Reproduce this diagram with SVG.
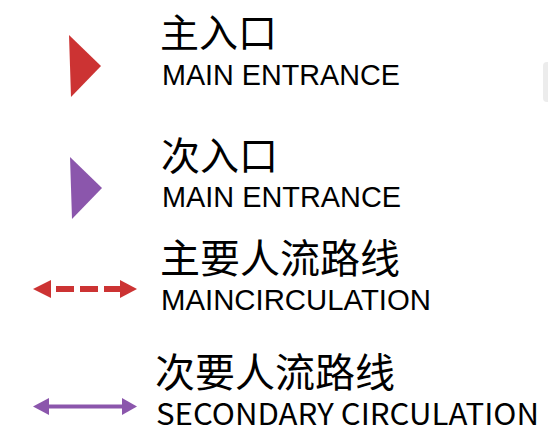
<svg xmlns="http://www.w3.org/2000/svg" width="548" height="436" viewBox="0 0 548 436">
<style>
.cn{font-family:"Noto Sans CJK SC","Noto Sans",sans-serif;font-size:39px;fill:#000}
.en{font-family:"Liberation Sans",Arial,sans-serif;font-size:29px;fill:#000}
.en2{font-family:"Noto Sans CJK SC","Noto Sans",sans-serif;font-size:30px;fill:#000}
</style>
<rect width="548" height="436" fill="#fff"/>
<rect x="543" y="62" width="12" height="40" rx="4" fill="#ececec"/>
<g id="main-entrance">
<polygon points="69,35 101,66 71,97" fill="#CC3333"/>
<text class="cn" x="160" y="47">主入口</text>
<text class="en" x="162" y="85" textLength="238" lengthAdjust="spacingAndGlyphs">MAIN ENTRANCE</text>
</g>
<g id="secondary-entrance">
<polygon points="70,157 102,188 72,219" fill="#8B56AC"/>
<text class="cn" x="161" y="170">次入口</text>
<text class="en" x="162" y="207" textLength="239" lengthAdjust="spacingAndGlyphs">MAIN ENTRANCE</text>
</g>
<g id="main-circulation">
<text class="cn" x="160" y="273" style="font-size:40px">主要人流路线</text>
<text class="en" x="161" y="310" textLength="270" lengthAdjust="spacingAndGlyphs" style="font-size:30px">MAINCIRCULATION</text>
</g>
<g id="secondary-circulation">
<text class="cn" x="155" y="387" style="font-size:40px">次要人流路线</text>
<text class="en2" x="156" y="425" textLength="383" lengthAdjust="spacingAndGlyphs">SECONDARY CIRCULATION</text>
</g>
<g id="connectors">
<line x1="56" y1="289" x2="122" y2="289" stroke="#CC3333" stroke-width="6" stroke-dasharray="18 6"/>
<polygon points="33,289 51,280 51,298" fill="#CC3333"/>
<polygon points="137,289 120,280 120,298" fill="#CC3333"/>
<line x1="47" y1="406.5" x2="124" y2="406.5" stroke="#8B56AC" stroke-width="4"/>
<polygon points="33,406.5 49,398 49,415" fill="#8B56AC"/>
<polygon points="137,406.5 122,398 122,415" fill="#8B56AC"/>
</g>
</svg>
